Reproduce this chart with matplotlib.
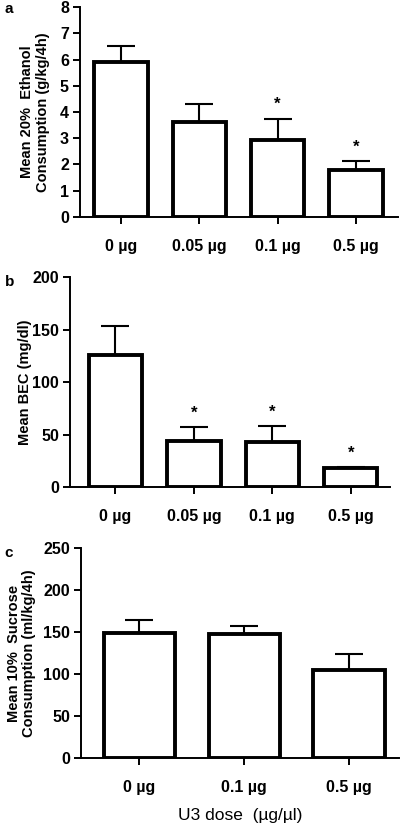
import numpy as np
import matplotlib.pyplot as plt

plt.rcParams['font.family'] = ['Liberation Sans', 'DejaVu Sans']

# panel a: ethanol consumption
doses_a = ['0 µg', '0.05 µg', '0.1 µg', '0.5 µg']
ethanol_mean = [5.89, 3.61, 2.95, 1.78]
ethanol_sem = [0.64, 0.68, 0.80, 0.35]
ethanol_sig = [False, False, True, True]

# panel b: blood ethanol concentration
doses_b = ['0 µg', '0.05 µg', '0.1 µg', '0.5 µg']
bec_mean = [125.4, 43.5, 43.2, 18.4]
bec_sem = [27.6, 13.3, 14.6, 0.6]
bec_sig = [False, True, True, True]

# panel c: sucrose consumption
doses_c = ['0 µg', '0.1 µg', '0.5 µg']
sucrose_mean = [148.8, 147.6, 105.2]
sucrose_sem = [15.5, 9.9, 18.6]

fig = plt.figure(figsize=(4.03, 8.25), dpi=100)


def bar_panel(rect, labels, means, sems, sig, ylim, yticks, ylabel, xlim, labcoord, star_off, letter, letter_xy):
    ax = fig.add_axes(rect)
    x = np.arange(len(labels))
    ax.bar(x, means, width=0.68, color='white', edgecolor='black', linewidth=2.8, zorder=3)
    ax.errorbar(x, means, yerr=[np.zeros(len(sems)), sems], fmt='none', ecolor='black',
                elinewidth=1.5, capsize=10, capthick=1.5, zorder=2)
    for i, s in enumerate(sig):
        if s:
            ax.text(x[i], means[i] + sems[i] + star_off, '*', ha='center', va='bottom',
                    fontsize=12, fontweight='bold')
    ax.set_xlim(*xlim)
    ax.set_ylim(*ylim)
    ax.set_yticks(yticks)
    ax.set_xticks(x)
    ax.set_xticklabels(labels, fontsize=11.5, fontweight='bold')
    for t in ax.get_yticklabels():
        t.set_fontsize(11.5)
        t.set_fontweight('bold')
    ax.set_ylabel(ylabel, fontsize=10.5, fontweight='bold', linespacing=1.15)
    ax.yaxis.set_label_coords(*labcoord)
    ax.spines['top'].set_visible(False)
    ax.spines['right'].set_visible(False)
    ax.spines['left'].set_linewidth(1.4)
    ax.spines['bottom'].set_linewidth(1.4)
    ax.tick_params(axis='both', direction='out', length=5, width=1.4, pad=3)
    ax.tick_params(axis='x', pad=11)
    fig.text(letter_xy[0], letter_xy[1], letter, fontsize=11, fontweight='bold', ha='left', va='top')
    return ax


bar_panel([0.1985, 0.737, 0.789, 0.2545], doses_a, ethanol_mean, ethanol_sem, ethanol_sig,
          (0, 8), range(0, 9), 'Mean 20%  Ethanol\nConsumption (g/kg/4h)',
          (-0.524, 3.536), (-0.094, 0.5), 0.25, 'a', (0.012, 0.998))

bar_panel([0.1737, 0.4097, 0.794, 0.2545], doses_b, bec_mean, bec_sem, bec_sig,
          (0, 200), [0, 50, 100, 150, 200], 'Mean BEC (mg/dl)',
          (-0.58, 3.50), (-0.119, 0.5), 6, 'b', (0.012, 0.667))

ax_c = bar_panel([0.201, 0.0812, 0.789, 0.2545], doses_c, sucrose_mean, sucrose_sem, [False] * 3,
                 (0, 250), [0, 50, 100, 150, 200, 250], 'Mean 10%  Sucrose\nConsumption (ml/kg/4h)',
                 (-0.558, 2.477), (-0.14, 0.5), 6, 'c', (0.012, 0.338))
ax_c.set_xlabel('U3 dose  (µg/µl)', fontsize=12.5, labelpad=9)

fig.savefig('out.png', dpi=100)
